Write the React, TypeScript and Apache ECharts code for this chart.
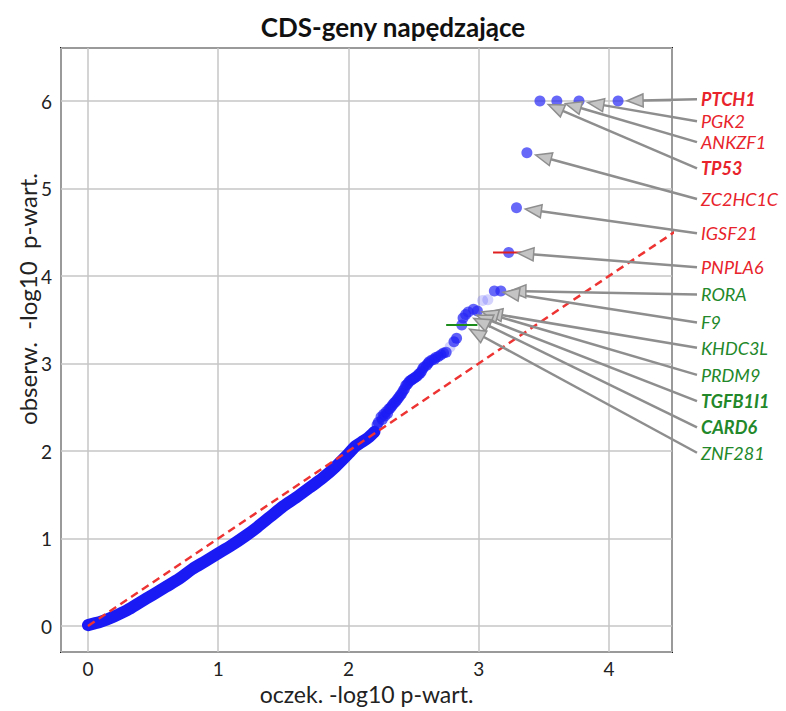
import React, { useEffect, useRef } from "react";
import * as echarts from "echarts";

// ---- data ----
const titleText = "CDS-geny napędzające";
const xName = "oczek. -log10 p-wart.";
const yName = "obserw.  -log10  p-wart.";

// dense part of the QQ curve (expected, observed)
const bandExpected = [0, 0.05, 0.1, 0.2, 0.3, 0.4, 0.5, 0.6, 0.7, 0.8, 0.9, 1.0, 1.1, 1.2, 1.3, 1.4, 1.5, 1.6, 1.7, 1.8, 1.9, 2.0, 2.05, 2.1, 2.15, 2.2];
const bandObserved = [0.01, 0.03, 0.05, 0.11, 0.18, 0.27, 0.36, 0.45, 0.54, 0.65, 0.74, 0.83, 0.92, 1.02, 1.13, 1.25, 1.37, 1.47, 1.58, 1.69, 1.82, 1.97, 2.05, 2.1, 2.15, 2.22];

// individual points of the upper tail (not annotated)
const tailExpected = [2.22, 2.23, 2.25, 2.26, 2.27, 2.28, 2.29, 2.3, 2.31, 2.32, 2.33, 2.34, 2.35, 2.36, 2.37, 2.38, 2.39, 2.4, 2.41, 2.42, 2.43, 2.44, 2.45, 2.46, 2.47, 2.48, 2.49, 2.5, 2.51, 2.52, 2.53, 2.54, 2.55, 2.56, 2.57, 2.58, 2.6, 2.61, 2.62, 2.64, 2.66, 2.67, 2.69, 2.71, 2.73, 2.75, 2.81, 2.83, 2.88];
const tailObserved = [2.3, 2.33, 2.39, 2.36, 2.42, 2.4, 2.45, 2.43, 2.48, 2.49, 2.51, 2.53, 2.55, 2.56, 2.58, 2.6, 2.62, 2.64, 2.66, 2.69, 2.71, 2.75, 2.76, 2.78, 2.8, 2.81, 2.82, 2.83, 2.84, 2.85, 2.86, 2.88, 2.89, 2.91, 2.94, 2.96, 2.98, 3.0, 3.02, 3.04, 3.05, 3.07, 3.08, 3.1, 3.12, 3.13, 3.25, 3.29, 3.52];

// faint points
const faintExpected = [3.03, 3.07, 2.78];
const faintObserved = [3.72, 3.73, 3.19];

// annotated genes
const genes = ["PTCH1", "PGK2", "ANKZF1", "TP53", "ZC2HC1C", "IGSF21", "PNPLA6", "RORA", "F9", "KHDC3L", "PRDM9", "TGFB1I1", "CARD6", "ZNF281"];
const geneExpected = [4.07, 3.77, 3.6, 3.47, 3.37, 3.29, 3.23, 3.17, 3.12, 2.99, 2.96, 2.92, 2.9, 2.87];
const geneObserved = [6.0, 6.0, 6.0, 6.0, 5.41, 4.78, 4.27, 3.83, 3.83, 3.6, 3.62, 3.59, 3.56, 3.44];
const geneGroup = ["red", "red", "red", "red", "red", "red", "red", "green", "green", "green", "green", "green", "green", "green"];
const geneBold = [true, false, false, true, false, false, false, false, false, false, false, true, true, false];
// label anchor heights (observed-axis units)
const labelAnchor = [6.02, 5.77, 5.53, 5.23, 4.88, 4.49, 4.1, 3.79, 3.47, 3.18, 2.87, 2.57, 2.27, 1.98];

// short horizontal marks
const redMarkX = [3.11, 3.36];
const redMarkY = 4.27;
const greenMarkX = [2.75, 2.99];
const greenMarkY = 3.44;

// reference diagonal y = x
const diagonal = [0, 4.6];

// ---- styles ----
const FONT = "Lato";
const groupColor: Record<string, string> = { red: "#e8232b", green: "#22882a" };

export default function App() {
  const ref = useRef<HTMLDivElement>(null);

  useEffect(() => {
    if (!ref.current) return;
    const chart = echarts.init(ref.current, undefined, { renderer: "svg" });

    const zip = (a: number[], b: number[]) => a.map((v, i) => [v, b[i]]);
    const intLabel = (v: number) => (Math.abs(v - Math.round(v)) < 1e-6 ? String(Math.round(v)) : "");

    const option: any = {
      animation: false,
      backgroundColor: "#ffffff",
      grid: {
        left: 61,
        right: 114,
        top: 48,
        bottom: 59,
        show: true,
        borderColor: "#1a1a1a",
        borderWidth: 2,
        backgroundColor: "transparent",
      },
      xAxis: {
        type: "value",
        min: -0.207,
        max: 4.484,
        splitNumber: 5,
        axisLine: { show: false },
        axisTick: { show: false },
        splitLine: { show: true, lineStyle: { color: "#c6c6c6", width: 1.5 } },
        axisLabel: { fontFamily: FONT, fontSize: 19, color: "#222", margin: 7, formatter: intLabel },
        name: xName,
        nameLocation: "middle",
        nameGap: 29,
        nameTextStyle: { fontFamily: FONT, fontSize: 23, color: "#222" },
      },
      yAxis: {
        type: "value",
        min: -0.297,
        max: 6.606,
        splitNumber: 5,
        axisLine: { show: false },
        axisTick: { show: false },
        splitLine: { show: true, lineStyle: { color: "#c6c6c6", width: 1.5 } },
        axisLabel: { fontFamily: FONT, fontSize: 19, color: "#222", margin: 9, formatter: intLabel },
      },
      series: [
        {
          type: "line",
          name: "band",
          data: zip(bandExpected, bandObserved),
          showSymbol: false,
          smooth: 0.3,
          z: 2,
          lineStyle: { color: "#1a1af5", width: 12, cap: "round", join: "round" },
        },
        {
          type: "scatter",
          name: "tail",
          data: zip(tailExpected, tailObserved),
          symbolSize: 11,
          z: 3,
          itemStyle: { color: "rgba(28,28,245,0.88)" },
        },
        {
          type: "scatter",
          name: "faint",
          data: zip(faintExpected, faintObserved),
          symbolSize: 11,
          z: 3,
          itemStyle: { color: "rgba(70,70,250,0.3)" },
        },
        {
          type: "scatter",
          name: "genes",
          data: zip(geneExpected, geneObserved),
          symbolSize: 11,
          z: 3,
          itemStyle: { color: "rgba(40,40,245,0.88)" },
        },
        {
          type: "line",
          name: "redMark",
          data: redMarkX.map((x) => [x, redMarkY]),
          showSymbol: false,
          z: 4,
          lineStyle: { color: "#e02020", width: 2 },
        },
        {
          type: "line",
          name: "greenMark",
          data: greenMarkX.map((x) => [x, greenMarkY]),
          showSymbol: false,
          z: 4,
          lineStyle: { color: "#1c8c1c", width: 2 },
        },
        {
          type: "line",
          name: "diagonal",
          data: diagonal.map((v) => [v, v]),
          showSymbol: false,
          z: 5,
          lineStyle: { color: "#ee3333", width: 2.5, type: [8, 5] },
        },
      ],
    };
    chart.setOption(option);

    const toPx = (x: number, y: number) =>
      chart.convertToPixel({ xAxisIndex: 0, yAxisIndex: 0 }, [x, y]) as number[];
    const rightEdge = toPx(4.484, 0)[0];
    const labelX = rightEdge + 29;

    const elements: any[] = [];
    genes.forEach((g, i) => {
      const [px, py] = toPx(geneExpected[i], geneObserved[i]);
      const ly = toPx(0, labelAnchor[i])[1];
      const sx = labelX - 4;
      const sy = ly;
      const dx = sx - px;
      const dy = sy - py;
      const len = Math.hypot(dx, dy);
      const ux = dx / len;
      const uy = dy / len;
      const tipX = px + ux * 9;
      const tipY = py + uy * 9;
      const baseX = tipX + ux * 16;
      const baseY = tipY + uy * 16;
      const nx = -uy;
      const ny = ux;
      elements.push({
        type: "line",
        z: 10,
        shape: { x1: sx, y1: sy, x2: baseX - ux * 2, y2: baseY - uy * 2 },
        style: { stroke: "#8e8e8e", lineWidth: 2.5 },
      });
      elements.push({
        type: "polygon",
        z: 11,
        shape: {
          points: [
            [tipX, tipY],
            [baseX + nx * 6.5, baseY + ny * 6.5],
            [baseX - nx * 6.5, baseY - ny * 6.5],
          ],
        },
        style: { fill: "#c4c4c4", stroke: "#8e8e8e", lineWidth: 1.5 },
      });
      elements.push({
        type: "text",
        z: 12,
        x: labelX,
        y: ly,
        style: {
          text: g,
          fill: groupColor[geneGroup[i]],
          fontFamily: FONT,
          fontSize: 18,
          lineHeight: 18,
          fontStyle: "italic",
          fontWeight: geneBold[i] ? "bold" : "normal",
          textAlign: "left",
          textVerticalAlign: "middle",
        },
      });
    });

    elements.push({
      type: "text",
      z: 12,
      x: 393,
      y: 27,
      style: {
        text: titleText,
        fill: "#111",
        fontFamily: FONT,
        fontSize: 26,
        fontWeight: "bold",
        textAlign: "center",
        textVerticalAlign: "middle",
      },
    });
    elements.push({
      type: "text",
      z: 12,
      x: 27,
      y: 299,
      rotation: Math.PI / 2,
      style: {
        text: yName,
        fill: "#222",
        fontFamily: FONT,
        fontSize: 24,
        textAlign: "center",
        textVerticalAlign: "middle",
      },
    });

    chart.setOption({ graphic: elements });

    return () => chart.dispose();
  }, []);

  return (
    <div
      ref={ref}
      style={{ position: "fixed", left: 0, top: 0, width: 786, height: 711, background: "#fff" }}
    />
  );
}
